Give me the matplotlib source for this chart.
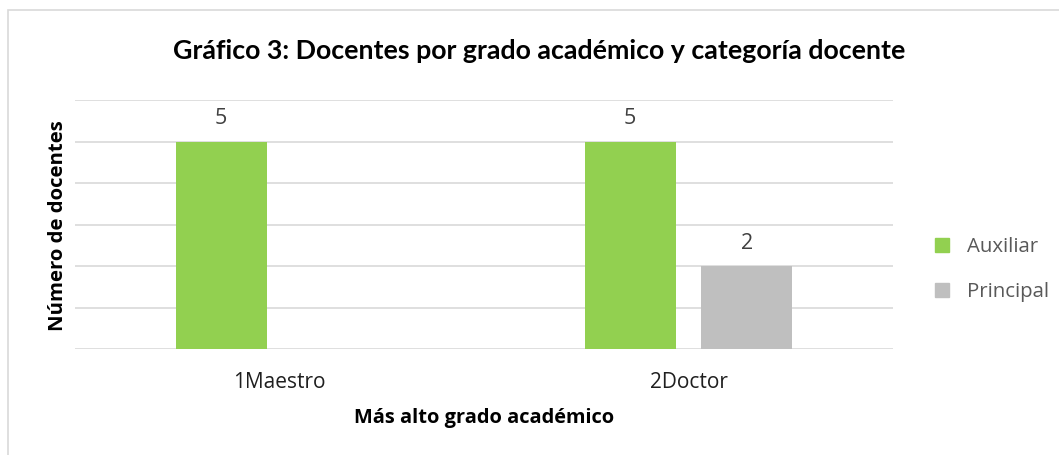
import numpy as np
import matplotlib.pyplot as plt
from matplotlib.patches import Rectangle, Patch

# Datos
categorias = ['1Maestro', '2Doctor']
auxiliar = [5, 5]
principal = [np.nan, 2]
series = ['Auxiliar', 'Principal']
colores = ['#92D050', '#BFBFBF']

plt.rcParams['font.family'] = ['Open Sans', 'DejaVu Sans']

W, H = 1059, 455
fig = plt.figure(figsize=(W / 100, H / 100), dpi=100)
ax = fig.add_axes([75 / W, 1 - 349 / H, 818 / W, 249 / H])

# marco del gráfico
fig.patches.append(Rectangle((8 / W, -0.05), 1.2, 1 - 10 / H + 0.05,
                             transform=fig.transFigure, fill=False,
                             edgecolor='#D9D9D9', linewidth=1.2))

x = np.arange(len(categorias))
ancho = 0.2225
desp = 0.1425
for i, (vals, col) in enumerate(zip([auxiliar, principal], colores)):
    pos = x + (-desp if i == 0 else desp)
    ax.bar(pos, vals, width=ancho, color=col, zorder=3)
    for p, v in zip(pos, vals):
        if not np.isnan(v):
            ax.text(p, v + 0.41, f'{v:g}', ha='center', va='baseline',
                    fontsize=15.5, color='#404040')

ax.set_xlim(-0.5, 1.5)
ax.set_ylim(0, 6)
ax.set_yticks(range(0, 7))
ax.set_yticklabels([])
ax.tick_params(axis='y', length=0)
ax.tick_params(axis='x', length=0, pad=16.5, labelsize=15, labelcolor='#1f1f1f')
ax.set_xticks(x)
ax.set_xticklabels(categorias)
ax.grid(axis='y', color='#D9D9D9', linewidth=1.2, zorder=0)
for s in ax.spines.values():
    s.set_visible(False)

ax.set_xlabel('Más alto grado académico', fontsize=14.4, fontweight='bold', va='center')
ax.xaxis.set_label_coords(0.5, (349 - 418) / 249)
ax.set_ylabel('Número de docentes', fontsize=14.6, fontweight='bold', va='center')
ax.yaxis.set_label_coords((58 - 75) / 818, (349 - 226) / 249)

fig.text(539.5 / W, 1 - 59 / H, 'Gráfico 3: Docentes por grado académico y categoría docente',
         ha='center', va='baseline', fontsize=19.3, fontweight='bold', color='black',
         family=['Lato', 'DejaVu Sans'])

handles = [Patch(color=c) for c in colores]
fig.legend(handles, series, loc='center left', bbox_to_anchor=(935 / W, 1 - 269.5 / H),
           frameon=False, fontsize=14.7, handlelength=0.69, handleheight=0.69,
           labelspacing=1.2, handletextpad=0.88, borderpad=0, borderaxespad=0,
           labelcolor='#595959')

fig.savefig('out.png', dpi=100)
